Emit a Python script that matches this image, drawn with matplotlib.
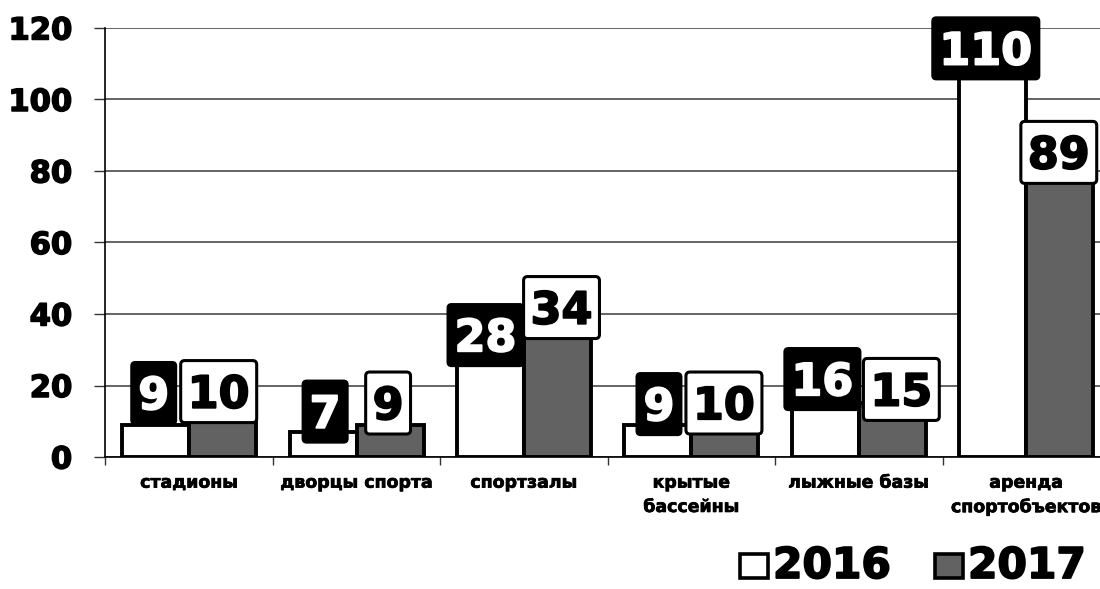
import matplotlib
matplotlib.use("Agg")
import matplotlib.pyplot as plt
from matplotlib.patches import FancyBboxPatch, Rectangle
from matplotlib.transforms import IdentityTransform
import matplotlib.patheffects as pe
import numpy as np

categories = ["стадионы", "дворцы спорта", "спортзалы", "крытые\nбассейны",
              "лыжные базы", "аренда\nспортобъектов"]
values_2016 = [9, 7, 28, 9, 16, 110]
values_2017 = [10, 9, 34, 10, 15, 89]
series_names = ["2016", "2017"]
y_ticks = [0, 20, 40, 60, 80, 100, 120]

# label box placement (centre in data units, horizontal nudge in pixels)
label_y_2016 = [17.9, 12.7, 34.1, 14.8, 21.8, 114.3]
label_y_2017 = [18.3, 15.1, 41.8, 15.1, 18.9, 85.2]
label_dx_2016 = [-2, 2, -5, 1, -3, -7]
label_dx_2017 = [-4, -2, 4, -1, 9, -1]

plt.rcParams['font.family'] = ['DejaVu Sans']
plt.rcParams['font.weight'] = 'bold'

W, H = 1100, 589
fig = plt.figure(figsize=(W / 100, H / 100), dpi=100)
ax = fig.add_axes([0.0959, 0.2241, 0.9132, 0.7284])

x = np.arange(len(categories))
w = 0.4
gray = "#626262"
ax.bar(x - w / 2, values_2016, width=w, color="white", edgecolor="black",
       linewidth=2.8, zorder=3)
ax.bar(x + w / 2, values_2017, width=w, color=gray, edgecolor="black",
       linewidth=2.8, zorder=3)

ax.set_xlim(-0.5, len(categories) - 0.5)
ax.set_ylim(0, 120)
ax.set_yticks(y_ticks)
ax.set_yticklabels([str(t) for t in y_ticks], fontsize=22, fontweight="bold")
for lab in ax.get_yticklabels():
    lab.set_path_effects([pe.withStroke(linewidth=1.1, foreground="black")])
ax.tick_params(axis="y", length=8, width=1, color="#333333", pad=16)
ax.yaxis.grid(True, color="#3a3a3a", linewidth=1.1, zorder=0)
ax.set_axisbelow(True)

ax.set_xticks(x)
ax.set_xticklabels(categories, fontsize=12.5, fontweight="bold",
                   linespacing=1.45)
for lab in ax.get_xticklabels():
    lab.set_path_effects([pe.withStroke(linewidth=0.5, foreground="black")])
ax.tick_params(axis="x", length=0, pad=12)
ax.set_xticks(np.arange(-0.5, len(categories)), minor=True)
ax.tick_params(axis="x", which="minor", length=6, width=1, color="#333333")

for s in ["top", "right"]:
    ax.spines[s].set_visible(False)
ax.spines["left"].set_linewidth(1.2)
ax.spines["bottom"].set_linewidth(1.2)

# value labels in boxes
renderer = fig.canvas.get_renderer()
fs = 32
digit_h = 0.729 * fs * 100 / 72
box_h = 62
padx = 7


def boxed_label(xd, yd, dx, s, fg, bg, edge_lw):
    px, py = ax.transData.transform((xd, yd))
    px += dx
    t = fig.text(px / W, (py - digit_h / 2) / H, s, color=fg, fontsize=fs,
                 fontweight="bold", ha="center", va="baseline", zorder=6)
    t.set_path_effects([pe.withStroke(linewidth=1.3, foreground=fg)])
    bb = t.get_window_extent(renderer)
    bw = bb.width + 2 * padx
    box = FancyBboxPatch((px - bw / 2, py - box_h / 2), bw, box_h,
                         boxstyle="round,pad=0,rounding_size=4",
                         facecolor=bg, edgecolor="black", linewidth=edge_lw,
                         transform=IdentityTransform(), zorder=5)
    fig.add_artist(box)


for i in range(len(categories)):
    boxed_label(x[i] - w / 2, label_y_2016[i], label_dx_2016[i],
                str(values_2016[i]), "white", "black", 1.5)
    boxed_label(x[i] + w / 2, label_y_2017[i], label_dx_2017[i],
                str(values_2017[i]), "black", "white", 2.2)

# legend (drawn by hand at the bottom right)
leg_fs = 30.5
base_y = 578
leg_items = [(740, 773, "white"), (935, 968, gray)]
for (sq_x, tx_x, col), name in zip(leg_items, series_names):
    sq = Rectangle((sq_x, H - base_y), 28, 24, facecolor=col,
                   edgecolor="black", linewidth=2.6,
                   transform=IdentityTransform(), zorder=5)
    fig.add_artist(sq)
    t = fig.text(tx_x / W, (H - base_y) / H, name, fontsize=leg_fs,
                 fontweight="bold", ha="left", va="baseline", color="black")
    t.set_path_effects([pe.withStroke(linewidth=1.3, foreground="black")])

fig.savefig("out.png", dpi=100)
